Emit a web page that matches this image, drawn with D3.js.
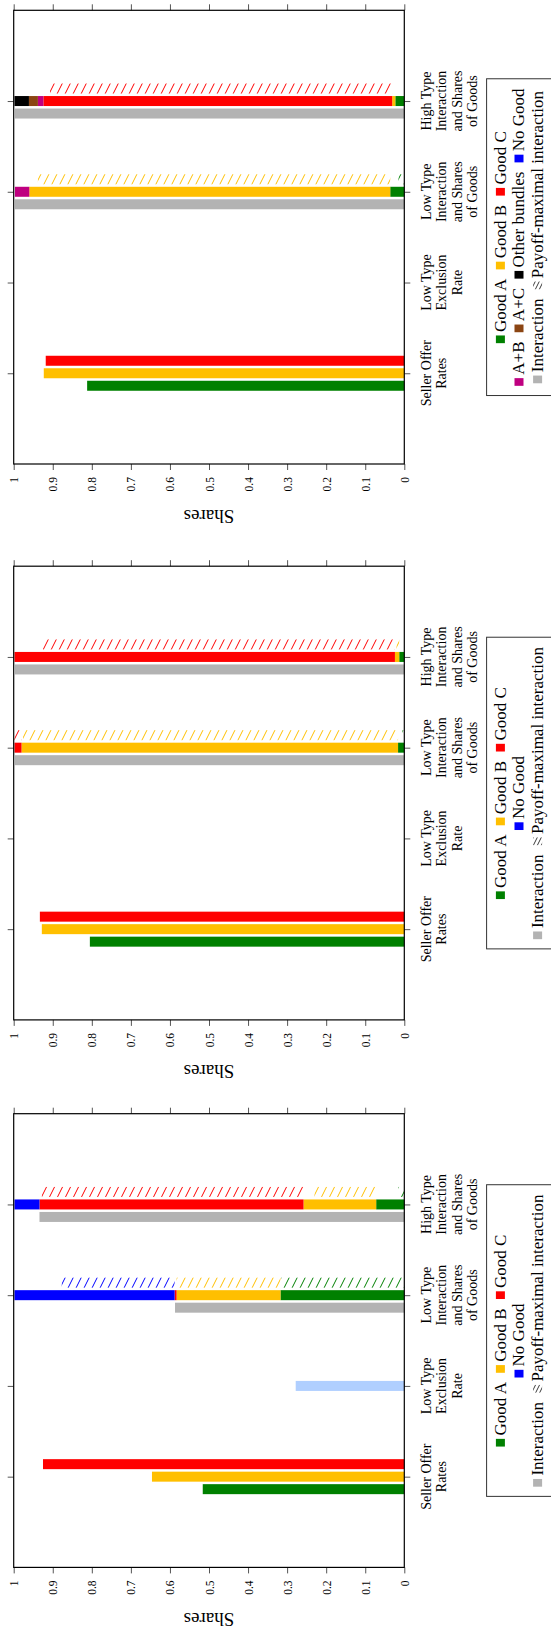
<!DOCTYPE html>
<html><head><meta charset="utf-8">
<script src="https://cdn.jsdelivr.net/npm/d3@7"></script>
<style>
body{margin:0;background:#fff}
svg{display:block}
svg text{font-family:"Liberation Serif","DejaVu Serif","Times New Roman",serif !important;fill:#000}
</style>
</head><body>
<svg id="c" width="551" height="1629" font-family="Liberation Serif, DejaVu Serif, serif"></svg>
<script>
// ---------- data ----------
const categories = ["Seller Offer Rates","Low Type Exclusion Rate","Low Type Interaction and Shares of Goods","High Type Interaction and Shares of Goods"];
const categoryLines = [["Seller Offer","Rates"],["Low Type","Exclusion","Rate"],["Low Type","Interaction","and Shares","of Goods"],["High Type","Interaction","and Shares","of Goods"]];
const shareTicks = [0,0.1,0.2,0.3,0.4,0.5,0.6,0.7,0.8,0.9,1];
const goods = ["Good A","Good B","Good C","A+B","A+C","Other bundles","No Good"];
const goodColors = ["#008000","#ffbf00","#ff0000","#bf0080","#8b4513","#000000","#0000ff"];
const interactionColor = "#b3b3b3";
const exclusionColor = "#b0cfff";

// per panel (top, middle, bottom)
const sellerOfferRates = [[0.812,0.923,0.918],[0.805,0.928,0.933],[0.516,0.646,0.925]]; // Good A, B, C
const lowTypeExclusionRate = [null,null,0.278];
const lowTypeShares = [[0.036,0.924,0,0.037,0,0,0],[0.016,0.964,0.018,0,0,0,0],[0.317,0.266,0.005,0,0,0,0.41]];
const highTypeShares = [[0.023,0.008,0.893,0.014,0.023,0.037,0],[0.013,0.011,0.974,0,0,0,0],[0.072,0.186,0.676,0,0,0,0.064]];
const lowTypeInteraction = [0.997,0.997,0.587];
const highTypeInteraction = [0.997,0.997,0.934];
const lowTypePayoffMax = [[0.015,0.902,0,0,0,0,0],[0.005,0.96,0.018,0,0,0,0],[0.315,0.266,0,0,0,0,0.289]];
const highTypePayoffMax = [[0,0,0.876,0,0,0,0],[0,0.007,0.901,0,0,0,0],[0.015,0.158,0.67,0,0,0,0]];
const legendRows = [
  [["Good A","Good B","Good C"],["A+B","A+C","Other bundles","No Good"],["Interaction","Payoff-maximal interaction"]],
  [["Good A","Good B","Good C"],["No Good"],["Interaction","Payoff-maximal interaction"]],
  [["Good A","Good B","Good C"],["No Good"],["Interaction","Payoff-maximal interaction"]]
];

// ---------- layout ----------
const panelTop = [10.3, 566.2, 1113.7];
const panelH = 453.7;
const frameLeft = 13.7, frameRight = 404.3;
const barT = 10, slot = 12.5;
const FONT = "Liberation Serif, DejaVu Serif, serif";

const svg = d3.select("#c");
const defs = svg.append("defs");
function makeHatch(id, color, sw){
  const p = defs.append("pattern").attr("id",id).attr("patternUnits","userSpaceOnUse")
    .attr("width",8).attr("height",16);
  [-8,0,8].forEach(o => p.append("line").attr("x1",o).attr("y1",16).attr("x2",o+8).attr("y2",0)
    .attr("stroke",color).attr("stroke-width",sw));
}
goodColors.forEach((c,i)=>makeHatch("h"+i,c,1));
const lp = defs.append("pattern").attr("id","hleg").attr("patternUnits","userSpaceOnUse").attr("width",4).attr("height",8);
[-4,0,4].forEach(o => lp.append("line").attr("x1",o).attr("y1",8).attr("x2",o+4).attr("y2",0).attr("stroke","#222").attr("stroke-width",0.9));

const fmt = d3.format("~g");

panelTop.forEach((top,p)=>{
  const g = svg.append("g");
  const x = d3.scaleLinear().domain([0,1]).range([frameRight, frameLeft]);
  const y = d3.scalePoint().domain(categories).range([top+panelH*0.8, top+panelH*0.2]);
  const bottom = top + panelH;

  function bar(v0, v1, cy, fill){
    if (v1 - v0 <= 0) return;
    g.append("rect").attr("x", x(v1)).attr("width", x(v0)-x(v1))
      .attr("y", cy - barT/2).attr("height", barT).attr("fill", fill);
  }
  sellerOfferRates[p].forEach((v,i)=> bar(0, v, y(categories[0]) + slot*(1-i), goodColors[i]));
  if (lowTypeExclusionRate[p] != null) bar(0, lowTypeExclusionRate[p], y(categories[1]), exclusionColor);
  [[lowTypeShares[p], lowTypeInteraction[p], lowTypePayoffMax[p], categories[2]],
   [highTypeShares[p], highTypeInteraction[p], highTypePayoffMax[p], categories[3]]].forEach(([shares, inter, pm, cat])=>{
    const cy = y(cat);
    bar(0, inter, cy + slot, interactionColor);
    let cum = 0;
    shares.forEach((v,i)=>{
      bar(cum, cum+v, cy, goodColors[i]);
      if (pm[i] > 0) bar(cum, cum+pm[i], cy - slot, "url(#h"+i+")");
      cum += v;
    });
  });

  // axes
  const bAx = g.append("g").attr("transform",`translate(0,${bottom})`)
    .call(d3.axisBottom(x).tickValues(shareTicks).tickSize(6).tickFormat(fmt));
  bAx.attr("font-family", FONT);
  bAx.select(".domain").remove();
  bAx.selectAll("line").attr("stroke","#555");
  bAx.selectAll("text").attr("transform","rotate(-90)").attr("x",-13).attr("y",0)
    .attr("dy","0.35em").attr("text-anchor","end").attr("font-size","11.5px")
    .attr("font-family",FONT).attr("fill","#000");
  const tAx = g.append("g").attr("transform",`translate(0,${top})`)
    .call(d3.axisTop(x).tickValues(shareTicks).tickSize(6).tickFormat(""));
  tAx.select(".domain").remove(); tAx.selectAll("line").attr("stroke","#555");
  const lAx = g.append("g").attr("transform",`translate(${frameLeft},0)`)
    .call(d3.axisLeft(y).tickSize(6).tickFormat(""));
  lAx.select(".domain").remove(); lAx.selectAll("line").attr("stroke","#555");
  const rAx = g.append("g").attr("transform",`translate(${frameRight},0)`)
    .call(d3.axisRight(y).tickSize(6).tickFormat(""));
  rAx.select(".domain").remove(); rAx.selectAll("line").attr("stroke","#555");

  g.append("rect").attr("x",frameLeft).attr("y",top).attr("width",frameRight-frameLeft)
    .attr("height",panelH).attr("fill","none").attr("stroke","#000").attr("stroke-width",1.2);

  categories.forEach((c,ci)=>{
    categoryLines[ci].forEach((ln,j)=>{
      g.append("text").attr("transform",`translate(${frameRight+26.2+15.5*j},${y(c)}) rotate(-90)`)
        .attr("text-anchor","middle").attr("font-family",FONT).attr("font-size","14px").text(ln);
    });
  });

  g.append("text").attr("transform",`translate(${x(0.5)},${bottom+52}) rotate(180)`)
    .attr("text-anchor","middle").attr("dominant-baseline","central")
    .attr("font-family",FONT).attr("font-size","19px").text("Shares");

  // legend
  const cy = top + panelH/2;
  const lg = g.append("g");
  const boxG = lg.append("g");
  const mW = 7.7, gap1 = 3.4, gap2 = 9.3;
  let maxL = 0;
  legendRows[p].forEach((row,r)=>{
    const bx = 505.5 + 18.6*r;
    const rg = lg.append("g");
    const items = row.map(lbl=>{
      const t = rg.append("text").attr("font-family",FONT).attr("font-size","17px").text(lbl);
      return {lbl, t, len: t.node().getComputedTextLength()};
    });
    const L = d3.sum(items, d=>d.len + mW + gap1) + gap2*(items.length-1);
    maxL = Math.max(maxL, L);
    let cur = cy + L/2;
    items.forEach(it=>{
      let fill;
      const gi = goods.indexOf(it.lbl);
      if (gi >= 0) fill = goodColors[gi];
      else if (it.lbl === "Interaction") fill = interactionColor;
      else fill = "url(#hleg)";
      rg.append("rect").attr("x", bx-9.6).attr("width",9).attr("y", cur-mW).attr("height",mW).attr("fill",fill);
      cur -= mW + gap1;
      it.t.attr("transform",`translate(${bx},${cur}) rotate(-90)`).attr("text-anchor","start");
      cur -= it.len + gap2;
    });
  });
  const pad = 9.7;
  boxG.append("rect").attr("x",486.6).attr("y",cy-maxL/2-pad).attr("width",80).attr("height",maxL+2*pad)
    .attr("fill","#fff").attr("stroke","#333").attr("stroke-width",1);
});
</script>
</body></html>
